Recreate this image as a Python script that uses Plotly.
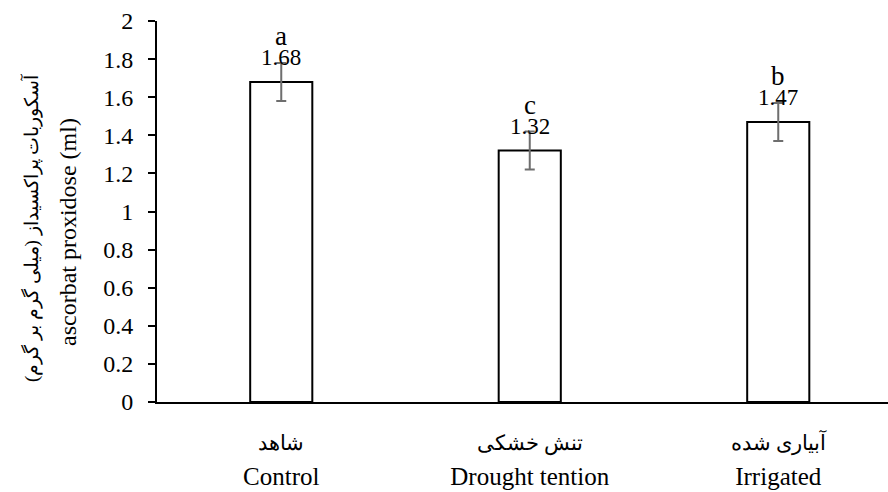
import plotly.graph_objects as go

# ---- data ----
categories_en = ["Control", "Drought tention", "Irrigated"]
categories_fa = ["شاهد", "تنش خشکی", "آبیاری شده"]
values = [1.68, 1.32, 1.47]
errors = [0.1, 0.1, 0.1]
letters = ["a", "c", "b"]
value_labels = ["1.68", "1.32", "1.47"]
y_tickvals = [0, 0.2, 0.4, 0.6, 0.8, 1, 1.2, 1.4, 1.6, 1.8, 2]
y_ticktext = ["0", "0.2", "0.4", "0.6", "0.8", "1", "1.2", "1.4", "1.6", "1.8", "2"]
ytitle_fa = "آسکوربات پراکسیداز (میلی گرم بر گرم)"
ytitle_en = "ascorbat proxidose (ml)"

SERIF = "Liberation Serif"
xpos = list(range(len(categories_en)))

fig = go.Figure()
fig.add_trace(go.Bar(
    x=xpos, y=values, width=0.25,
    marker=dict(color="white", line=dict(color="black", width=2)),
    error_y=dict(type="data", array=errors, visible=True,
                 color="#6e6e6e", thickness=2, width=5),
    showlegend=False, hoverinfo="skip",
))
# invisible trace on overlaying axis for Persian tick labels
fig.add_trace(go.Scatter(x=xpos, y=values, xaxis="x2", mode="markers",
                         marker=dict(opacity=0), showlegend=False, hoverinfo="skip"))

# value labels and significance letters
for xi, v, lab, let in zip(xpos, values, value_labels, letters):
    fig.add_annotation(x=xi, y=v, xref="x", yref="y", text=lab, showarrow=False,
                       yanchor="bottom", yshift=10, font=dict(family=SERIF, size=23, color="black"))
    fig.add_annotation(x=xi, y=v, xref="x", yref="y", text=let, showarrow=False,
                       yanchor="bottom", yshift=29, font=dict(family=SERIF, size=27, color="black"))

# y-axis titles (two lines)
fig.add_annotation(xref="paper", yref="paper", x=(32 - 157) / 731, y=(402 - 228) / 381,
                   text=ytitle_fa, textangle=-90, showarrow=False, xanchor="center", yanchor="middle",
                   font=dict(family=SERIF, size=19, color="black"))
fig.add_annotation(xref="paper", yref="paper", x=(68 - 157) / 731, y=(402 - 232) / 381,
                   text=ytitle_en, textangle=-90, showarrow=False, xanchor="center", yanchor="middle",
                   font=dict(family=SERIF, size=24, color="black"))

xr = [-0.5, (888 - 157) / 248.5 - 0.5]
fig.update_layout(
    width=888, height=492, autosize=False,
    margin=dict(l=157, r=0, t=21, b=90, autoexpand=False),
    plot_bgcolor="white", paper_bgcolor="white",
    font=dict(family=SERIF, color="black"),
    bargap=0.75,
    xaxis=dict(range=xr, tickvals=xpos, ticktext=categories_en, showline=True,
               linecolor="black", linewidth=2, showgrid=False, zeroline=False,
               ticks="", ticklabelstandoff=51, automargin=False,
               tickfont=dict(family=SERIF, size=25, color="black")),
    xaxis2=dict(range=xr, overlaying="x", anchor="y", side="bottom", tickvals=xpos,
                ticktext=categories_fa, showline=False, showgrid=False, zeroline=False,
                ticks="", ticklabelstandoff=26, automargin=False,
                tickfont=dict(family=SERIF, size=21, color="black")),
    yaxis=dict(range=[0, 2], tickmode="array", tickvals=y_tickvals, ticktext=y_ticktext,
               showline=True, linecolor="black", linewidth=2, showgrid=False, zeroline=False,
               ticks="outside", ticklen=7, tickwidth=2, tickcolor="black",
               ticklabelstandoff=10, automargin=False,
               tickfont=dict(family="Times New Roman", size=24, color="black")),
)

fig.write_html("out.html", config={"displayModeBar": False},
               post_script="document.body.style.margin='0';document.body.style.overflow='hidden';")
